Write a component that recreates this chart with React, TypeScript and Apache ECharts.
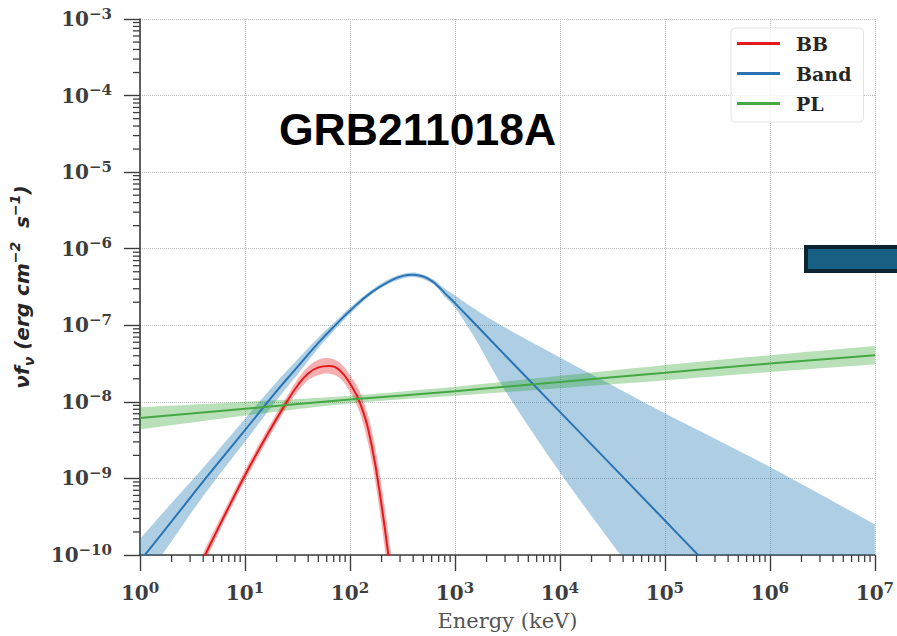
import React, { useEffect, useRef } from 'react';
import * as echarts from 'echarts';

// ---- Data (Energy in keV, nuFnu in erg cm^-2 s^-1) ----
const SERIES_NAMES = ['BB', 'Band', 'PL'];

// Band function best fit
const BAND_E = [1, 2, 4, 10, 20, 30, 50, 75, 100, 160, 250, 320, 400, 500, 600, 715, 800, 1000, 1600, 3000, 10000, 100000, 300000];
const BAND_Y = [8.32e-11, 2.75e-10, 9.12e-10, 4.27e-9, 1.38e-8, 2.63e-8, 5.89e-8, 1.05e-7, 1.55e-7, 2.69e-7, 3.89e-7, 4.42e-7, 4.57e-7, 4.33e-7, 3.8e-7, 3.09e-7, 2.63e-7, 1.95e-7, 1.0e-7, 4.07e-8, 7.41e-9, 2.82e-10, 5.89e-11];
// Band function confidence region
const BAND_CI_E = [1, 2, 4, 10, 20, 30, 50, 75, 100, 160, 250, 400, 600, 715, 800, 1000, 1600, 3000, 10000, 40000, 100000, 1000000, 10000000];
const BAND_HI = [1.62e-10, 4.79e-10, 1.38e-9, 6.03e-9, 1.82e-8, 3.31e-8, 6.92e-8, 1.17e-7, 1.7e-7, 2.88e-7, 4.17e-7, 4.9e-7, 4.07e-7, 3.39e-7, 3.02e-7, 2.45e-7, 1.58e-7, 9.33e-8, 3.8e-8, 1.38e-8, 7.08e-9, 1.41e-9, 2.51e-10];
const BAND_LO = [3.98e-11, 1.51e-10, 5.89e-10, 3.02e-9, 1.05e-8, 2.09e-8, 5.01e-8, 9.33e-8, 1.41e-7, 2.51e-7, 3.63e-7, 4.27e-7, 3.55e-7, 2.82e-7, 2.34e-7, 1.7e-7, 6.31e-8, 1.41e-8, 1.2e-9, 8.91e-11, 1.58e-11, 2.5e-13, 4e-15];

// Blackbody
const BB_E = [4, 5, 6.3, 10, 16, 25, 32, 40, 50, 63, 80, 100, 126, 160, 200, 250];
const BB_Y = [8.91e-11, 1.66e-10, 3.16e-10, 1.1e-9, 3.55e-9, 1.0e-8, 1.66e-8, 2.34e-8, 2.82e-8, 2.95e-8, 2.57e-8, 1.74e-8, 9.33e-9, 2.82e-9, 4.47e-10, 4.47e-11];
const BB_HI = [1.07e-10, 2.0e-10, 3.72e-10, 1.29e-9, 4.17e-9, 1.17e-8, 2.0e-8, 2.88e-8, 3.55e-8, 3.72e-8, 3.24e-8, 2.24e-8, 1.29e-8, 4.47e-9, 7.94e-10, 8.91e-11];
const BB_LO = [7.41e-11, 1.38e-10, 2.69e-10, 9.33e-10, 3.02e-9, 8.51e-9, 1.38e-8, 1.91e-8, 2.24e-8, 2.34e-8, 2.04e-8, 1.35e-8, 6.76e-9, 1.78e-9, 2.51e-10, 2.24e-11];

// Power law
const PL_E = [1, 10, 100, 1000, 10000, 100000, 1000000, 10000000];
const PL_Y = [6.17e-9, 8.13e-9, 1.07e-8, 1.38e-8, 1.82e-8, 2.4e-8, 3.16e-8, 4.07e-8];
const PL_HI = [8.51e-9, 1.0e-8, 1.2e-8, 1.58e-8, 2.19e-8, 3.02e-8, 4.07e-8, 5.37e-8];
const PL_LO = [4.37e-9, 6.61e-9, 9.55e-9, 1.2e-8, 1.51e-8, 1.91e-8, 2.45e-8, 3.09e-8];

const TITLE = 'GRB211018A';
const X_MIN = 1;
const X_MAX = 1e7;
const Y_MIN = 1e-10;
const Y_MAX = 1e-3;

const RED = '#e41a1c';
const BLUE = '#2a74b3';
const GREEN = '#45a845';
const AXIS_COLOR = '#3d3d3d';

function catmull(p: number[][]): number[][] {
  const out: number[][] = [];
  const n = p.length;
  for (let i = 0; i < n - 1; i++) {
    const p0 = p[i - 1] || p[i];
    const p1 = p[i];
    const p2 = p[i + 1];
    const p3 = p[i + 2] || p[i + 1];
    for (let s = 0; s < 10; s++) {
      const t = s / 10;
      const t2 = t * t;
      const t3 = t2 * t;
      const q = [0, 1].map(
        (k) =>
          0.5 *
          (2 * p1[k] +
            (-p0[k] + p2[k]) * t +
            (2 * p0[k] - 5 * p1[k] + 4 * p2[k] - p3[k]) * t2 +
            (-p0[k] + 3 * p1[k] - 3 * p2[k] + p3[k]) * t3)
      );
      out.push(q);
    }
  }
  out.push(p[n - 1]);
  return out;
}

function bandSeries(name: string, E: number[], lo: number[], hi: number[], fill: string, z: number) {
  const data = E.map((e, i) => [e, lo[i], hi[i]]);
  return {
    type: 'custom',
    name,
    silent: true,
    clip: true,
    z,
    data,
    encode: { x: 0, y: [1, 2] },
    renderItem: (params: any, api: any) => {
      if (params.dataIndex !== 0) return null;
      const up = data.map((d) => api.coord([d[0], d[2]]));
      const dn = data.map((d) => api.coord([d[0], d[1]]));
      const pts = catmull(up).concat(catmull(dn).reverse());
      return { type: 'polygon', shape: { points: pts }, style: { fill, stroke: null } };
    },
  };
}

function lineSeries(name: string, E: number[], Y: number[], color: string, z: number) {
  return {
    type: 'line',
    name,
    data: E.map((e, i) => [e, Y[i]]),
    color,
    showSymbol: false,
    symbol: 'none',
    smooth: 0.45,
    clip: true,
    z,
    lineStyle: { color, width: 2 },
  };
}

const X_MINOR: number[][] = [];
for (let k = 0; k < 7; k++) for (let m = 2; m <= 9; m++) X_MINOR.push([m * Math.pow(10, k), Y_MIN]);
const Y_MINOR: number[][] = [];
for (let k = -10; k < -3; k++) for (let m = 2; m <= 9; m++) Y_MINOR.push([X_MIN, m * Math.pow(10, k)]);

const supLabel = (v: number) => {
  const e = Math.round(Math.log10(v));
  return `{b|10}{s|${e < 0 ? '\u2212' + -e : e}}`;
};

const TICK_RICH = {
  b: { fontFamily: 'DejaVu Serif', fontWeight: 'bold', fontSize: 20, color: AXIS_COLOR, lineHeight: 26 },
  s: { fontFamily: 'DejaVu Serif', fontWeight: 'bold', fontSize: 15, color: AXIS_COLOR, lineHeight: 14, verticalAlign: 'top' },
};

const YNAME_FONT = { fontFamily: 'DejaVu Sans', fontWeight: 'bold', fontStyle: 'italic', color: '#262626' };

export default function App() {
  const ref = useRef<HTMLDivElement>(null);
  useEffect(() => {
    const chart = echarts.init(ref.current!, null, { renderer: 'svg' });
    const option: any = {
      animation: false,
      backgroundColor: '#ffffff',
      title: {
        text: TITLE,
        left: 279,
        top: 107,
        padding: 0,
        textStyle: { fontFamily: 'Liberation Sans', fontWeight: 'bold', fontSize: 44.5, color: '#000000' },
      },
      legend: {
        data: SERIES_NAMES,
        orient: 'vertical',
        left: 731,
        top: 28,
        padding: [6, 12, 9, 6],
        itemGap: 11,
        itemWidth: 43,
        itemHeight: 3,
        icon: 'rect',
        backgroundColor: 'rgba(255,255,255,0.8)',
        borderColor: '#e4e4e4',
        borderWidth: 1,
        borderRadius: 4,
        textStyle: {
          fontFamily: 'DejaVu Serif',
          fontWeight: 'bold',
          fontSize: 19,
          color: '#262626',
          padding: [0, 0, 0, 11],
        },
      },
      grid: { left: 139, top: 19, right: 22, bottom: 77, containLabel: false },
      xAxis: {
        type: 'log',
        logBase: 10,
        min: X_MIN,
        max: X_MAX,
        name: 'Energy (keV)',
        nameLocation: 'middle',
        nameGap: 55,
        nameTextStyle: { fontFamily: 'DejaVu Serif', fontSize: 21, color: '#555555' },
        axisLine: { show: true, onZero: false, lineStyle: { color: AXIS_COLOR, width: 1.6 } },
        axisTick: { show: true, length: 16, lineStyle: { color: AXIS_COLOR, width: 1.4 } },
        minorTick: { show: false },
        axisLabel: { formatter: supLabel, margin: 25, rich: TICK_RICH },
        splitLine: { show: true, lineStyle: { color: '#bdbdbd', type: 'dotted', width: 1 } },
      },
      yAxis: {
        type: 'log',
        logBase: 10,
        min: Y_MIN,
        max: Y_MAX,
        name: '{a|\u03bdf}{d|\u03bd}{a| (erg cm}{p|\u22122}{a|  s}{p|\u22121}{a|)}',
        nameLocation: 'middle',
        nameGap: 104,
        nameTextStyle: {
          ...YNAME_FONT,
          fontSize: 20,
          rich: {
            a: { ...YNAME_FONT, fontSize: 20, lineHeight: 28 },
            d: { ...YNAME_FONT, fontSize: 14, lineHeight: 14, verticalAlign: 'bottom' },
            p: { ...YNAME_FONT, fontSize: 14, lineHeight: 14, verticalAlign: 'top' },
          },
        },
        axisLine: { show: true, onZero: false, lineStyle: { color: AXIS_COLOR, width: 1.6 } },
        axisTick: { show: true, length: 16, lineStyle: { color: AXIS_COLOR, width: 1.4 } },
        minorTick: { show: false },
        axisLabel: { formatter: supLabel, margin: 28, rich: TICK_RICH },
        splitLine: { show: true, lineStyle: { color: '#bdbdbd', type: 'dotted', width: 1 } },
      },
      graphic: [
        {
          type: 'rect',
          shape: { x: 806, y: 247, width: 100, height: 24 },
          style: { fill: '#176083', stroke: '#0c2434', lineWidth: 4 },
          z: 100,
        },
      ],
      series: [
        bandSeries('Band CI', BAND_CI_E, BAND_LO, BAND_HI, 'rgba(31,119,180,0.36)', 1),
        lineSeries('Band', BAND_E, BAND_Y, BLUE, 3),
        bandSeries('BB CI', BB_E, BB_LO, BB_HI, 'rgba(228,26,28,0.35)', 2),
        lineSeries('BB', BB_E, BB_Y, RED, 4),
        bandSeries('PL CI', PL_E, PL_LO, PL_HI, 'rgba(44,160,44,0.33)', 2),
        lineSeries('PL', PL_E, PL_Y, GREEN, 4),
        {
          type: 'custom',
          name: 'xminor',
          silent: true,
          clip: false,
          z: 10,
          data: X_MINOR,
          renderItem: (_p: any, api: any) => {
            const c = api.coord([api.value(0), api.value(1)]);
            return { type: 'line', shape: { x1: c[0], y1: c[1], x2: c[0], y2: c[1] + 7 }, style: { stroke: AXIS_COLOR, lineWidth: 1.3 } };
          },
        },
        {
          type: 'custom',
          name: 'yminor',
          silent: true,
          clip: false,
          z: 10,
          data: Y_MINOR,
          renderItem: (_p: any, api: any) => {
            const c = api.coord([api.value(0), api.value(1)]);
            return { type: 'line', shape: { x1: c[0], y1: c[1], x2: c[0] - 7, y2: c[1] }, style: { stroke: AXIS_COLOR, lineWidth: 1.3 } };
          },
        },
      ],
    };
    chart.setOption(option);
    return () => chart.dispose();
  }, []);
  return <div ref={ref} style={{ position: 'fixed', left: 0, top: 0, width: 897, height: 636 }} />;
}
